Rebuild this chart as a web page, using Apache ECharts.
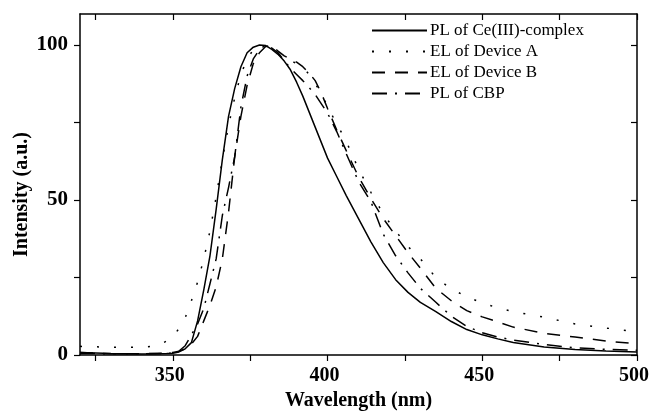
<!DOCTYPE html>
<html>
<head>
<meta charset="utf-8">
<script src="https://cdn.jsdelivr.net/npm/echarts@6/dist/echarts.min.js"></script>
<style>
html,body{margin:0;padding:0;background:#fff;}
#chart{width:651px;height:415px;}
</style>
</head>
<body>
<div id="chart"></div>
<script>
// Wavelength grid (nm)
var wavelengths = [320, 330, 340, 345, 348, 350, 352, 354, 356, 358, 360, 362, 364, 366, 368, 370, 372, 374, 376, 378, 380, 382, 384, 386, 388, 390, 392, 394, 396, 398, 400, 403, 406, 410, 414, 418, 422, 426, 430, 435, 440, 445, 450, 455, 460, 470, 480, 490, 500];
// PL of Ce(III)-complex (solid)
var plCe = [0.8, 0.5, 0.3, 0.4, 0.5, 0.6, 1.0, 2.0, 4, 11, 21, 32, 47, 63, 77, 86, 93, 97.5, 99.3, 100, 99.8, 98.6, 97, 94.8, 92, 88, 83.5, 78.5, 73.5, 68.5, 63.5, 57.5, 51.5, 44, 36.5, 29.8, 24.3, 20.2, 17, 14, 10.8, 8.2, 6.5, 5.2, 4, 2.6, 1.8, 1.3, 1.0];
// EL of Device A (dotted)
var elA = [2.8, 2.5, 2.5, 3, 4.5, 6, 8.5, 12, 17.5, 23.5, 31, 40, 51, 63, 74, 83, 90.5, 95.5, 98.5, 100, 99.7, 98.5, 97, 96, 95, 94, 93, 90.5, 87.5, 84.5, 80, 74.5, 69, 60, 52.5, 45.5, 40, 35, 31, 25, 21.3, 18.8, 16.8, 15.2, 14, 12.2, 10, 8.7, 7.5];
// EL of Device B (dashed)
var elB = [0.8, 0.4, 0.4, 0.5, 0.6, 0.8, 1.2, 2, 3.5, 6, 11, 16, 22, 31, 46, 64, 77, 87, 94, 97.5, 99.5, 100, 98, 96.5, 95.5, 94.5, 93, 91, 88.5, 84.5, 79.5, 72.5, 66, 57.5, 50.5, 44, 38.5, 33, 28, 21.5, 17.5, 14.3, 12.3, 10.7, 9, 7, 5.8, 4.5, 3.6];
// PL of CBP (dash-dot)
var plCBP = [0.5, 0.4, 0.4, 0.5, 0.5, 0.6, 1.3, 3, 6.5, 10, 15, 23, 31, 45, 54, 64, 80, 90, 95.5, 98.5, 100, 99, 97.5, 95, 92.5, 90.5, 88.5, 86.3, 84, 81, 78, 72, 65, 56, 49.5, 39, 32, 26.5, 21.5, 17, 12.5, 9.2, 7.2, 5.8, 4.8, 3.4, 2.3, 1.8, 1.5];
var seriesNames = ['PL of Ce(III)-complex', 'EL of Device A', 'EL of Device B', 'PL of CBP'];
var xTickValues = [325, 350, 375, 400, 425, 450, 475, 500];
var xLabelValues = [350, 400, 450, 500];
var yTickValues = [0, 25, 50, 75, 100];
var yLabelValues = [0, 50, 100];

function pairs(ys) { return wavelengths.map(function (x, i) { return [x, ys[i]]; }); }

var FONT = '"Liberation Serif", "Times New Roman", serif';
var axisLine = { show: true, onZero: false, lineStyle: { color: '#000', width: 1.5 } };
var chart = echarts.init(document.getElementById('chart'), null, { renderer: 'canvas' });
function mk(name, data, type) {
  return {
    name: name, type: 'line', data: pairs(data), symbol: 'none', smooth: false,
    lineStyle: { color: '#000', width: 1.5, type: type },
    itemStyle: { color: '#000' }, animation: false
  };
}
chart.setOption({
  backgroundColor: '#fff',
  animation: false,
  grid: { left: 80, right: 14, top: 14, bottom: 60, containLabel: false, outerBoundsMode: 'none' },
  legend: {
    show: true, orient: 'vertical', left: 371, top: 22, padding: 0,
    itemWidth: 55, itemHeight: 14, itemGap: 4, itemStyle: { opacity: 0 },
    textStyle: { fontFamily: FONT, fontSize: 17, color: '#000', padding: [0, 0, 0, -2] },
    data: seriesNames
  },
  xAxis: [{
    type: 'value', min: 320, max: 500, position: 'bottom',
    name: 'Wavelength (nm)', nameLocation: 'middle', nameGap: 36, nameMoveOverlap: false,
    nameTextStyle: { fontFamily: FONT, fontSize: 20, fontWeight: 'bold', color: '#000' },
    axisLine: axisLine,
    axisTick: { show: true, length: 6, customValues: xTickValues, lineStyle: { color: '#000', width: 1.2 } },
    axisLabel: { customValues: xLabelValues, margin: 11, fontFamily: FONT, fontSize: 20, fontWeight: 'bold', color: '#000', padding: [0, 6, 0, 0] },
    splitLine: { show: false }
  }, {
    type: 'value', min: 320, max: 500, position: 'top',
    axisLine: axisLine,
    axisTick: { show: true, inside: true, length: 6, customValues: xTickValues, lineStyle: { color: '#000', width: 1.2 } },
    axisLabel: { show: false }, splitLine: { show: false }
  }],
  yAxis: [{
    type: 'value', min: 0, max: 110, position: 'left',
    name: 'Intensity (a.u.)', nameLocation: 'middle', nameGap: 48, nameMoveOverlap: false,
    nameTextStyle: { fontFamily: FONT, fontSize: 20, fontWeight: 'bold', color: '#000', padding: [0, 20, 0, 0] },
    axisLine: axisLine,
    axisTick: { show: true, length: 6, customValues: yTickValues, lineStyle: { color: '#000', width: 1.2 } },
    axisLabel: { customValues: yLabelValues, margin: 12, fontFamily: FONT, fontSize: 21, fontWeight: 'bold', color: '#000' },
    splitLine: { show: false }
  }, {
    type: 'value', min: 0, max: 110, position: 'right',
    axisLine: axisLine,
    axisTick: { show: true, inside: true, length: 6, customValues: yTickValues, lineStyle: { color: '#000', width: 1.2 } },
    axisLabel: { show: false }, splitLine: { show: false }
  }],
  series: [
    mk(seriesNames[0], plCe, 'solid'),
    mk(seriesNames[1], elA, [2, 15]),
    mk(seriesNames[2], elB, [13, 10]),
    mk(seriesNames[3], plCBP, [15, 8, 2, 8])
  ]
});
</script>
</body>
</html>
